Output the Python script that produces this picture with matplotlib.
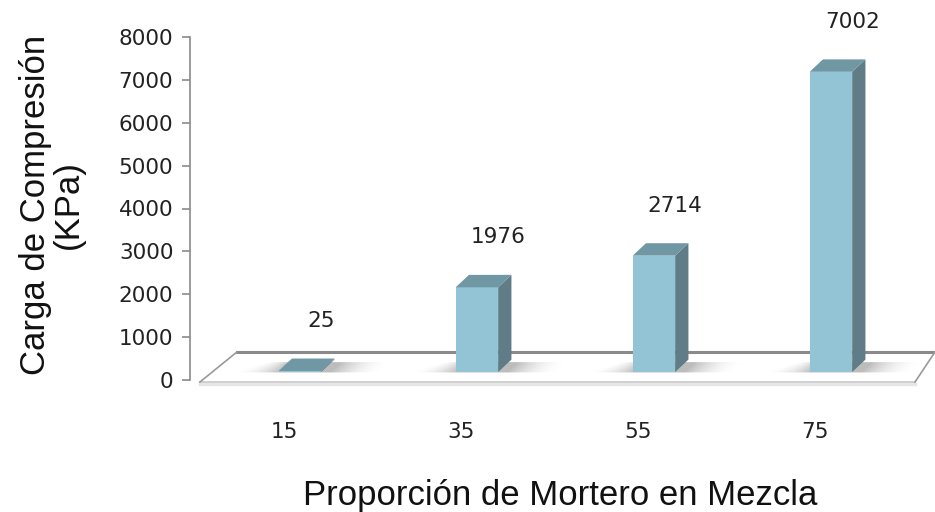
import matplotlib
matplotlib.use("Agg")
import matplotlib.pyplot as plt
from matplotlib.patches import Polygon
import numpy as np

categories = ["15", "35", "55", "75"]
values = [25, 1976, 2714, 7002]
y_ticks = [0, 1000, 2000, 3000, 4000, 5000, 6000, 7000, 8000]

front_col = "#93C4D6"
side_col = "#5F7C87"
top_col = "#7097A4"

fig = plt.figure(figsize=(9.35, 5.12), dpi=100)
ax = fig.add_axes([190 / 935, 132 / 512, 745 / 935, 343 / 512])
ax.set_xlim(-0.621, 3.588)
ax.set_ylim(0, 8000)

x = np.arange(len(categories))
w = 0.24          # front face width
base = 186        # bars sit a little into the floor depth
ddx, ddy = 0.075, 290   # depth offset of the 3d faces

# floor
floor = Polygon([(-0.565, -47), (3.475, -47), (3.588, 653), (-0.356, 653)],
                closed=True, facecolor="white", edgecolor="none", clip_on=False, zorder=1)
ax.add_patch(floor)
ax.plot([-0.356, 3.588], [653, 653], color="#8a8a8a", lw=2.2, clip_on=False, zorder=2)
ax.plot([-0.565, 3.475], [-47, -47], color="#c8c8c8", lw=1.2, clip_on=False, zorder=2)
ax.plot([-0.565, -0.356], [-47, 653], color="#9a9a9a", lw=1.2, clip_on=False, zorder=2)
ax.plot([3.475, 3.588], [-47, 653], color="#9a9a9a", lw=1.2, clip_on=False, zorder=2)
ax.plot([-0.565, 3.475], [-90, -90], color="#e6e6e6", lw=2.5, clip_on=False, zorder=1)

# soft shadows behind bars
for xi in x:
    n = 14
    for k in range(n):
        a = 0.035 * (1 - k / n)
        sh = Polygon([(xi - w / 2 - 0.02 * k, base - 10), (xi + w / 2 + 0.06 + 0.02 * k, base - 10),
                      (xi + w / 2 + 0.12 + 0.02 * k, base + 230), (xi - w / 2 + 0.06 - 0.01 * k, base + 230)],
                     closed=True, facecolor="black", alpha=a, edgecolor="none", zorder=3)
        ax.add_patch(sh)

# bars
ax.bar(x, values, width=w, bottom=base, color=front_col, edgecolor="none", zorder=5)
for xi, v in zip(x, values):
    top = base + v
    side = Polygon([(xi + w / 2, base), (xi + w / 2 + ddx, base + ddy),
                    (xi + w / 2 + ddx, top + ddy), (xi + w / 2, top)],
                   closed=True, facecolor=side_col, edgecolor="none", zorder=4)
    lid = Polygon([(xi - w / 2, top), (xi + w / 2, top),
                   (xi + w / 2 + ddx, top + ddy), (xi - w / 2 + ddx, top + ddy)],
                  closed=True, facecolor=top_col, edgecolor="none", zorder=6)
    ax.add_patch(side)
    ax.add_patch(lid)
    ax.annotate(str(v), (xi + 0.12, top), xytext=(0, 36), textcoords="offset points",
                ha="center", va="center", fontsize=15.5, color="#222222",
                family="DejaVu Sans", annotation_clip=False)

# axes styling
for s in ["top", "right", "bottom"]:
    ax.spines[s].set_visible(False)
ax.spines["left"].set_color("#8a8a8a")
ax.spines["left"].set_linewidth(1.2)
ax.set_yticks(y_ticks)
ax.set_yticklabels([str(t) for t in y_ticks], fontsize=15.5, family="DejaVu Sans", color="#222222")
ax.tick_params(axis="y", length=6, width=1.2, color="#8a8a8a", pad=6)
ax.set_xticks(x - 0.09)
ax.set_xticklabels(categories, fontsize=15.5, family="DejaVu Sans", color="#222222")
ax.tick_params(axis="x", length=0, pad=30)
ax.patch.set_alpha(0)

fig.text(52 / 935, 1 - 205 / 512, "Carga de Compresión\n(KPa)", rotation=90,
         ha="center", va="center", fontsize=25, family="Liberation Sans",
         linespacing=1.0, color="#111111")
fig.text(560 / 935, 1 - 495 / 512, "Proporción de Mortero en Mezcla",
         ha="center", va="center", fontsize=25, family="Liberation Sans", color="#111111")

fig.savefig("out.png", dpi=100)
